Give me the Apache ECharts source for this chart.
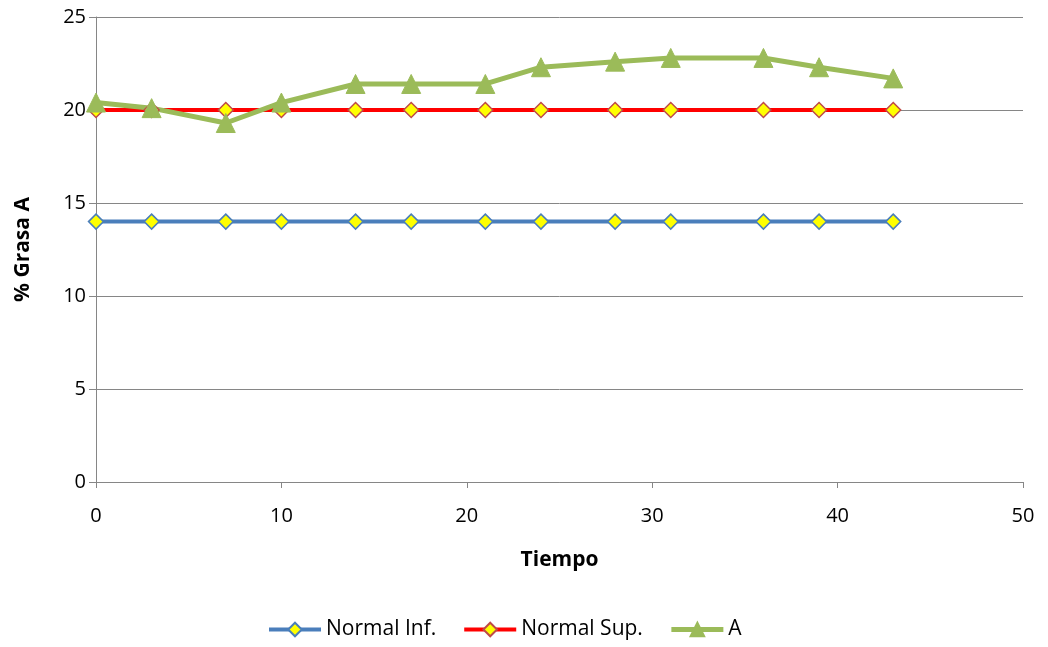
<!DOCTYPE html>
<html><head><meta charset="utf-8">
<script src="https://cdn.jsdelivr.net/npm/echarts@6/dist/echarts.min.js"></script>
<style>html,body{margin:0;padding:0;background:#fff}#c{width:1048px;height:647px}</style>
</head><body><div id="c"></div>
<script>
const tiempo = [0, 3, 7, 10, 14, 17, 21, 24, 28, 31, 36, 39, 43];
const normalInf = [14, 14, 14, 14, 14, 14, 14, 14, 14, 14, 14, 14, 14];
const normalSup = [20, 20, 20, 20, 20, 20, 20, 20, 20, 20, 20, 20, 20];
const serieA = [20.4, 20.1, 19.3, 20.4, 21.4, 21.4, 21.4, 22.3, 22.6, 22.8, 22.8, 22.3, 21.7];
const pairs = ys => tiempo.map((t, i) => [t, ys[i]]);
const font = "'Open Sans', 'Liberation Sans', sans-serif";
const chart = echarts.init(document.getElementById('c'));
chart.setOption({
  animation: false,
  textStyle: {fontFamily: font},
  grid: {left: 96, right: 25, top: 17, bottom: 165, containLabel: false},
  xAxis: {
    type: 'value', min: 0, max: 50, interval: 10,
    name: 'Tiempo', nameLocation: 'middle', nameGap: 68,
    nameTextStyle: {fontWeight: 'bold', fontSize: 21, color: '#000', fontFamily: font},
    axisLine: {show: true, lineStyle: {color: '#868686', width: 1}},
    axisTick: {show: true, length: 6, lineStyle: {color: '#868686'}},
    axisLabel: {fontSize: 20, color: '#000', margin: 24, fontFamily: font},
    splitLine: {show: false}
  },
  yAxis: {
    type: 'value', min: 0, max: 25, interval: 5,
    name: '% Grasa A', nameLocation: 'middle', nameGap: 62, nameRotate: 90,
    nameTextStyle: {fontWeight: 'bold', fontSize: 21, color: '#000', fontFamily: font},
    axisLine: {show: true, lineStyle: {color: '#868686', width: 1}},
    axisTick: {show: true, length: 7, lineStyle: {color: '#868686'}},
    axisLabel: {fontSize: 20, color: '#000', margin: 10, fontFamily: font},
    splitLine: {show: true, lineStyle: {color: '#868686', width: 1}}
  },
  legend: {
    bottom: 2, left: 262, itemWidth: 52, itemHeight: 17, itemGap: 26,
    textStyle: {fontSize: 21, color: '#000', fontFamily: font},
    data: [
      {name: 'Normal Inf.', lineStyle: {width: 4}},
      {name: 'Normal Sup.', lineStyle: {width: 4}},
      {name: 'A', lineStyle: {width: 5}}
    ]
  },
  series: [
    {name: 'Normal Inf.', type: 'line', data: pairs(normalInf),
     lineStyle: {color: '#4a7ebb', width: 4}, symbol: 'diamond', symbolSize: 15,
     itemStyle: {color: '#ffff00', borderColor: '#4a7ebb', borderWidth: 1.5}},
    {name: 'Normal Sup.', type: 'line', data: pairs(normalSup),
     lineStyle: {color: '#ff0000', width: 4}, symbol: 'diamond', symbolSize: 15,
     itemStyle: {color: '#ffff00', borderColor: '#be4b48', borderWidth: 1.5}},
    {name: 'A', type: 'line', data: pairs(serieA),
     lineStyle: {color: '#9bbb59', width: 5}, symbol: 'triangle', symbolSize: 19,
     itemStyle: {color: '#9bbb59', borderColor: '#9bbb59', borderWidth: 1}}
  ]
});
</script></body></html>
